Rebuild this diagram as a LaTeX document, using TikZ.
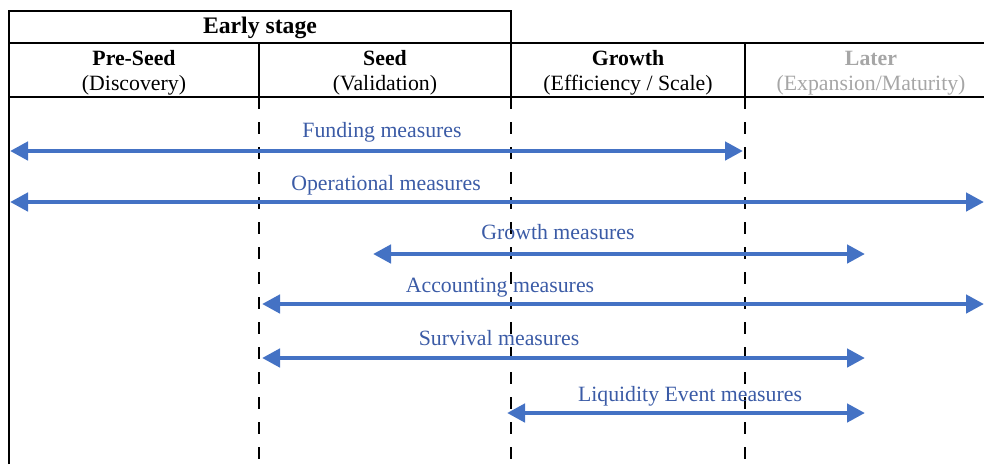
\documentclass[tikz,border=0pt]{standalone}
\usepackage{fontspec}
\setmainfont{Liberation Serif}
\usetikzlibrary{arrows.meta,positioning}

\definecolor{arrowblue}{HTML}{4472C4}
\definecolor{labelblue}{HTML}{3B5BA6}
\definecolor{latergray}{HTML}{A6A6A6}

\begin{document}
\begin{tikzpicture}
        [x=1pt,y=-1pt,>={Triangle[length=18pt,width=18pt]},
         rule/.style={line width=2.2pt},
         phase/.style={line width=2.8pt,dash pattern=on 12pt off 13pt},
         measure/.style={<->,line width=4.5pt,draw=arrowblue},
         head/.style={anchor=base,inner sep=0pt,font=\fontsize{21.8}{26}\selectfont},
         mlabel/.style={anchor=base,inner sep=0pt,text=labelblue,font=\fontsize{21.8}{26}\selectfont}]

        \useasboundingbox (0,0) rectangle (984,464);

        % table head
        \draw[rule] (9,464) -- (9,11) -- (511,11) -- (511,97);
        \draw[rule] (9,43) -- (984,43);
        \draw[rule] (9,97) -- (984,97);
        \draw[rule] (259,43) -- (259,97);
        \draw[rule] (745,43) -- (745,97);

        \node[head,font=\fontsize{23.7}{28}\selectfont\bfseries] (early) at (260,33) {Early stage};

        \node[head,font=\fontsize{21.8}{26}\selectfont\bfseries] (preseed) at (134,65) {Pre-Seed};
        \node[head] (preseed-sub) at (134,90) {(Discovery)};
        \node[head,font=\fontsize{21.8}{26}\selectfont\bfseries] (seed) at (385,65) {Seed};
        \node[head] (seed-sub) at (385,90) {(Validation)};
        \node[head,font=\fontsize{21.8}{26}\selectfont\bfseries] (growth) at (628,65) {Growth};
        \node[head] (growth-sub) at (628,90) {(Efficiency / Scale)};
        \node[head,text=latergray,font=\fontsize{21.8}{26}\selectfont\bfseries] (later) at (871,65) {Later};
        \node[head,text=latergray] (later-sub) at (871,90) {(Expansion/Maturity)};

        % stage borders
        \foreach \x in {259,511,745}
            \draw[phase] (\x,97) -- (\x,464);

        % measures
        \coordinate (fund-l) at (10,151);
        \coordinate (fund-r) at (743,151);
        \draw[measure] (fund-l) -- (fund-r);
        \node[mlabel] (fund) at (382,137) {Funding measures};

        \coordinate (oper-l) at (10,202);
        \coordinate (oper-r) at (984,202);
        \draw[measure] (oper-l) -- (oper-r);
        \node[mlabel] (oper) at (386,190) {Operational measures};

        \coordinate (grow-l) at (373,254);
        \coordinate (grow-r) at (865,254);
        \draw[measure] (grow-l) -- (grow-r);
        \node[mlabel] (grow) at (558,239) {Growth measures};

        \coordinate (acct-l) at (262,304);
        \coordinate (acct-r) at (984,304);
        \draw[measure] (acct-l) -- (acct-r);
        \node[mlabel] (acct) at (500,292) {Accounting measures};

        \coordinate (surv-l) at (262,358);
        \coordinate (surv-r) at (865,358);
        \draw[measure] (surv-l) -- (surv-r);
        \node[mlabel] (surv) at (499,345) {Survival measures};

        \coordinate (liq-l) at (507,413);
        \coordinate (liq-r) at (865,413);
        \draw[measure] (liq-l) -- (liq-r);
        \node[mlabel] (liq) at (690,401) {Liquidity Event measures};

    \end{tikzpicture}
\end{document}
